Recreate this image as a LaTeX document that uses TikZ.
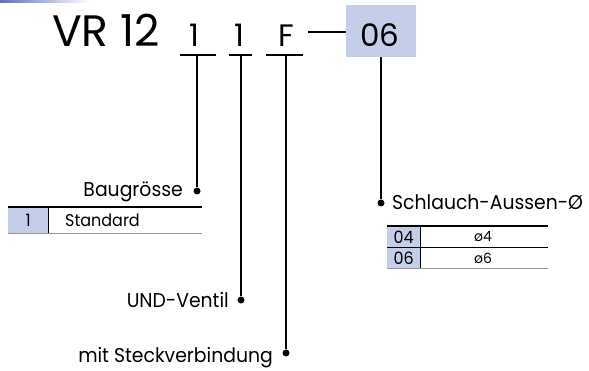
\documentclass[tikz,border=0pt]{standalone}
\usepackage{fontspec}
\setmainfont{Poppins}
\newfontfamily\narrowfont{Poppins}[FakeStretch=0.94]
\usetikzlibrary{positioning}
\definecolor{keyblue}{RGB}{197,206,232}
\definecolor{barblue}{RGB}{96,112,192}
\definecolor{rulegray}{RGB}{150,150,150}
\tikzset{
  codepart/.style={inner sep=0pt, anchor=base, font=\fontsize{31}{31}\selectfont},
  lead/.style={line width=2pt},
  dot/.style={circle, fill=black, inner sep=0pt, minimum size=7pt},
  lbl/.style={inner sep=0pt, font=\narrowfont\fontsize{20}{20}\selectfont},
  cell/.style={inner sep=0pt, font=\narrowfont\fontsize{17}{17}\selectfont},
  keycell/.style={fill=keyblue, inner sep=0pt, anchor=north west}
}
\begin{document}
\begin{tikzpicture}[x=1pt,y=-1pt]
 \useasboundingbox (0,0) rectangle (589,371);
 \shade[left color=barblue, right color=white] (0,0) rectangle (90,3);
 % type code
 \node[codepart, anchor=base west, font=\fontsize{44}{44}\selectfont] (vr) at (52,47) {VR 12};
 \node[codepart] (size) at (194,47) {1};
 \node[codepart] (und) at (239,47) {1};
 \node[codepart] (plug) at (286,47) {F};
 \node[fill=keyblue, minimum width=70pt, minimum height=52pt, inner sep=0pt] (box) at (381,31) {};
 \node[codepart] (hose) at (380,47) {06};
 \coordinate (dash) at (308,32);
 \draw[line width=2.5pt] (dash) -- (box.west |- dash);
 % leads
 \coordinate (u1) at (197,55);
 \coordinate (u2) at (241,55);
 \coordinate (u3) at (286,55);
 \node[dot] (d1) at (197,191) {};
 \node[dot] (d2) at (241,300) {};
 \node[dot] (d3) at (286,353) {};
 \node[dot] (d4) at (381,203) {};
 \draw[lead] ([xshift=-17pt]u1) -- ([xshift=19pt]u1);
 \draw[lead] ([xshift=-12pt]u2) -- ([xshift=11pt]u2);
 \draw[lead] ([xshift=-20pt]u3) -- ([xshift=17pt]u3);
 \draw[lead] (u1) -- (d1);
 \draw[lead] (u2) -- (d2);
 \draw[lead] (u3) -- (d3);
 \draw[lead] (box.south) -- (d4);
 % labels
 \node[lbl, anchor=base east] (baug) at ([xshift=-14pt,yshift=-6pt]d1) {Baugrösse};
 \node[lbl, anchor=base east] (ventil) at ([xshift=-12pt,yshift=-8pt]d2) {UND-Ventil};
 \node[lbl, anchor=base east] (steck) at ([xshift=-13pt,yshift=-9pt]d3) {mit Steckverbindung};
 \node[lbl, anchor=base west] (aussen) at ([xshift=11pt,yshift=-7pt]d4) {Schlauch-Aussen-Ø};
 % table Baugroesse
 \node[keycell, minimum width=40pt, minimum height=25pt] (k1) at (8,208) {};
 \node[cell] at (k1) {1};
 \node[cell, anchor=west] (std) at (65,220.5) {Standard};
 \draw[line width=2pt] (8,207) -- (202,207);
 \draw[line width=0.8pt] (k1.north east) -- (k1.south east);
 \draw[rulegray, line width=1pt] (8,233.5) -- (202,233.5);
 % table Schlauch
 \node[keycell, minimum width=33pt, minimum height=19.5pt] (k04) at (387,227) {};
 \node[keycell, minimum width=33pt, minimum height=19.5pt] (k06) at (387,248) {};
 \node[cell] at (k04) {04};
 \node[cell] at (k06) {06};
 \node[cell, font=\fontsize{14}{14}\selectfont] at (k04 -| 483,0) {ø4};
 \node[cell, font=\fontsize{14}{14}\selectfont] at (k06 -| 483,0) {ø6};
 \draw[line width=2pt] (387,226) -- (548,226);
 \draw[line width=1pt] (387,247.5) -- (548,247.5);
 \draw[rulegray, line width=1pt] (387,268.5) -- (548,268.5);
 \draw[line width=0.8pt] (k04.north east) -- (k06.south east);
\end{tikzpicture}
\end{document}
